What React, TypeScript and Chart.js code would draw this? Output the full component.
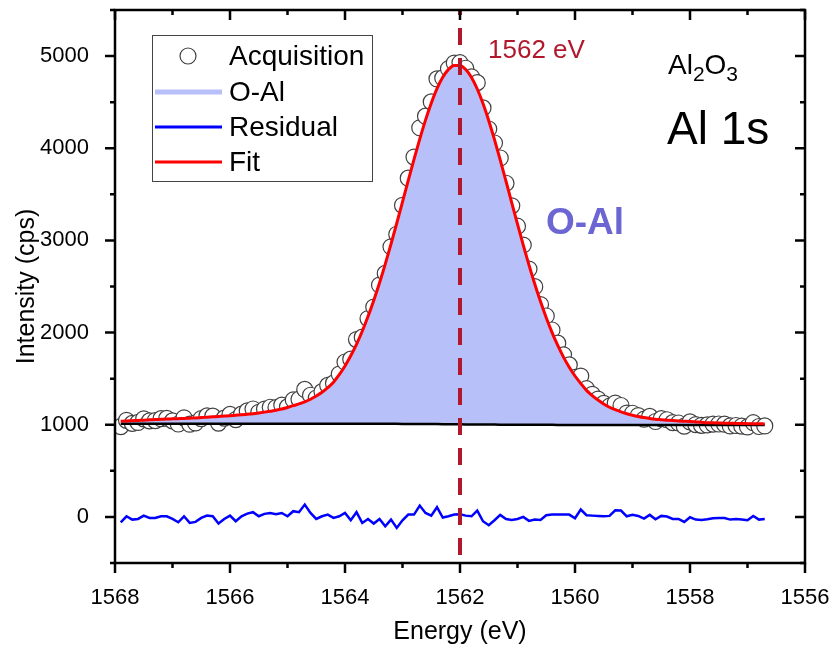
import React, { useEffect, useRef } from 'react';
import { Chart, registerables } from 'chart.js';

Chart.register(...registerables);

// ---------- data ----------
const energies = [
  1567.9, 1567.8, 1567.7, 1567.6, 1567.5, 1567.4, 1567.3, 1567.2, 1567.1, 1567.0,
  1566.9, 1566.8, 1566.7, 1566.6, 1566.5, 1566.4, 1566.3, 1566.2, 1566.1, 1566.0,
  1565.9, 1565.8, 1565.7, 1565.6, 1565.5, 1565.4, 1565.3, 1565.2, 1565.1, 1565.0,
  1564.9, 1564.8, 1564.7, 1564.6, 1564.5, 1564.4, 1564.3, 1564.2, 1564.1, 1564.0,
  1563.9, 1563.8, 1563.7, 1563.6, 1563.5, 1563.4, 1563.3, 1563.2, 1563.1, 1563.0,
  1562.9, 1562.8, 1562.7, 1562.6, 1562.5, 1562.4, 1562.3, 1562.2, 1562.1, 1562.0,
  1561.9, 1561.8, 1561.7, 1561.6, 1561.5, 1561.4, 1561.3, 1561.2, 1561.1, 1561.0,
  1560.9, 1560.8, 1560.7, 1560.6, 1560.5, 1560.4, 1560.3, 1560.2, 1560.1, 1560.0,
  1559.9, 1559.8, 1559.7, 1559.6, 1559.5, 1559.4, 1559.3, 1559.2, 1559.1, 1559.0,
  1558.9, 1558.8, 1558.7, 1558.6, 1558.5, 1558.4, 1558.3, 1558.2, 1558.1, 1558.0,
  1557.9, 1557.8, 1557.7, 1557.6, 1557.5, 1557.4, 1557.3, 1557.2, 1557.1, 1557.0,
  1556.9, 1556.8, 1556.7,
];

const acquisition = [
  980, 1048, 1015, 1025, 1064, 1042, 1045, 1066, 1069, 1042,
  1008, 1075, 1006, 1020, 1067, 1096, 1093, 1018, 1072, 1112,
  1056, 1115, 1150, 1171, 1135, 1170, 1190, 1186, 1213, 1194,
  1269, 1277, 1383, 1320, 1290, 1359, 1427, 1451, 1550, 1681,
  1712, 1924, 1950, 2152, 2277, 2516, 2642, 2931, 3067, 3381,
  3675, 3904, 4222, 4348, 4503, 4752, 4763, 4863, 4924, 4928,
  4868, 4775, 4712, 4438, 4209, 4057, 3894, 3620, 3375, 3154,
  2950, 2689, 2498, 2304, 2180, 2028, 1885, 1759, 1649, 1515,
  1528, 1391, 1330, 1279, 1232, 1201, 1235, 1209, 1127, 1125,
  1100, 1060, 1090, 1035, 1066, 1054, 1023, 1019, 984, 1031,
  1002, 994, 998, 1007, 1008, 1006, 987, 992, 984, 976,
  1022, 981, 987,
];

// single O-Al component: component envelope equals the fit
const fitValues = [
  1038, 1041, 1044, 1047, 1050, 1053, 1056, 1059, 1062, 1064,
  1066, 1068, 1071, 1074, 1078, 1082, 1086, 1090, 1094, 1098,
  1103, 1108, 1114, 1120, 1128, 1137, 1147, 1157, 1170, 1187,
  1207, 1226, 1249, 1277, 1312, 1352, 1402, 1462, 1543, 1638,
  1748, 1873, 2015, 2174, 2349, 2538, 2743, 2960, 3186, 3417,
  3650, 3879, 4099, 4305, 4489, 4647, 4770, 4856, 4899, 4899,
  4854, 4768, 4643, 4485, 4299, 4093, 3872, 3642, 3408, 3176,
  2950, 2732, 2527, 2337, 2162, 2003, 1860, 1734, 1624, 1529,
  1448, 1373, 1316, 1268, 1225, 1190, 1163, 1140, 1120, 1103,
  1089, 1078, 1068, 1060, 1055, 1050, 1045, 1041, 1038, 1035,
  1031, 1027, 1023, 1021, 1019, 1017, 1016, 1014, 1013, 1012,
  1011, 1010, 1009,
];
const oAlComponent = fitValues;

const backgroundValues = [
  1012, 1012, 1012, 1012, 1012, 1012, 1012, 1012, 1012, 1012,
  1012, 1012, 1012, 1012, 1012, 1012, 1012, 1012, 1012, 1012,
  1012, 1012, 1012, 1012, 1012, 1012, 1012, 1012, 1012, 1012,
  1012, 1012, 1012, 1012, 1012, 1012, 1012, 1012, 1012, 1012,
  1012, 1011, 1011, 1011, 1011, 1010, 1010, 1010, 1010, 1009,
  1009, 1008, 1008, 1008, 1007, 1007, 1006, 1006, 1005, 1005,
  1004, 1004, 1003, 1003, 1002, 1002, 1001, 1001, 1000, 1000,
  1000, 999, 999, 999, 999, 999, 998, 998, 998, 998,
  998, 998, 998, 998, 998, 998, 998, 998, 998, 998,
  998, 998, 998, 998, 998, 998, 998, 998, 998, 998,
  998, 998, 998, 998, 998, 998, 998, 998, 998, 998,
  998, 998, 998,
];

const residual = [
  -58, 7, -29, -22, 14, -11, -11, 7, 7, -22,
  -58, 7, -65, -54, -11, 14, 7, -72, -22, 14,
  -47, 7, 36, 51, 7, 33, 43, 29, 43, 7,
  62, 51, 134, 43, -22, 7, 25, -11, 7, 43,
  -36, 51, -65, -22, -72, -22, -101, -29, -119, -36,
  25, 25, 123, 43, 14, 105, -7, 7, 25, 29,
  14, 7, 69, -47, -90, -36, 22, -22, -33, -22,
  0, -43, -29, -33, 18, 25, 25, 25, 25, -14,
  80, 18, 14, 11, 7, 11, 72, 69, 7, 22,
  11, -18, 22, -25, 11, 4, -22, -22, -54, -4,
  -29, -33, -25, -14, -11, -11, -29, -22, -29, -36,
  11, -29, -22,
];

const xMajorTicks = [1568, 1566, 1564, 1562, 1560, 1558, 1556];
const yMajorTicks = [0, 1000, 2000, 3000, 4000, 5000];
const peakEnergy = 1562;
const peakLabel = '1562 eV';
const legendLabels = ['Acquisition', 'O-Al', 'Residual', 'Fit'];

// ---------- styles ----------
const FONT = '"Liberation Sans", Arial, Helvetica, sans-serif';
const FILL_COLOR = '#b8c0fa';
const DASH_COLOR = '#b2182b';
const LABEL_COLOR = '#6c66d2';
const CIRCLE_EDGE = '#404040';

const toPoints = (ys: number[]) => energies.map((e, i) => ({ x: e, y: ys[i] }));

const decorations = {
  id: 'decorations',
  afterDatasetsDraw(chart: any) {
    const { ctx, chartArea: ca, scales } = chart;
    const px = scales.x.getPixelForValue(peakEnergy);
    ctx.save();
    ctx.beginPath();
    ctx.rect(ca.left, ca.top, ca.right - ca.left, ca.bottom - ca.top);
    ctx.clip();
    ctx.strokeStyle = DASH_COLOR;
    ctx.lineWidth = 4;
    ctx.setLineDash([17, 13]);
    ctx.lineDashOffset = 12;
    ctx.beginPath();
    ctx.moveTo(px, ca.top);
    ctx.lineTo(px, ca.bottom);
    ctx.stroke();
    ctx.restore();
  },
  afterDraw(chart: any) {
    const { ctx, chartArea: ca, scales } = chart;
    const xs = scales.x;
    const ys = scales.y;
    ctx.save();
    ctx.strokeStyle = '#000';
    ctx.lineWidth = 2.5;
    ctx.setLineDash([]);
    ctx.strokeRect(ca.left, ca.top, ca.right - ca.left, ca.bottom - ca.top);

    ctx.lineWidth = 2.5;
    ctx.beginPath();
    xs.ticks.forEach((t: any) => {
      const p = xs.getPixelForValue(t.value);
      const len = xMajorTicks.includes(t.value) ? 10 : 5;
      ctx.moveTo(p, ca.bottom);
      ctx.lineTo(p, ca.bottom + len);
      ctx.moveTo(p, ca.top);
      ctx.lineTo(p, ca.top + len);
    });
    ys.ticks.forEach((t: any) => {
      const p = ys.getPixelForValue(t.value);
      const len = yMajorTicks.includes(t.value) ? 10 : 5;
      ctx.moveTo(ca.left - len, p);
      ctx.lineTo(ca.left, p);
      ctx.moveTo(ca.right - len, p);
      ctx.lineTo(ca.right, p);
    });
    ctx.stroke();

    // annotations
    ctx.textBaseline = 'middle';
    ctx.textAlign = 'left';
    ctx.fillStyle = DASH_COLOR;
    ctx.font = `26px ${FONT}`;
    ctx.fillText(peakLabel, 488, 51);

    ctx.textBaseline = 'alphabetic';
    ctx.fillStyle = '#000';
    let cx = 668;
    const parts: [string, boolean][] = [['Al', false], ['2', true], ['O', false], ['3', true]];
    parts.forEach(([s, sub]) => {
      ctx.font = `${sub ? 21 : 28}px ${FONT}`;
      ctx.fillText(s, cx, sub ? 81 : 74);
      cx += ctx.measureText(s).width;
    });
    ctx.font = `46px ${FONT}`;
    ctx.fillText('Al 1s', 667, 144);

    ctx.fillStyle = LABEL_COLOR;
    ctx.font = `bold 37px ${FONT}`;
    ctx.fillText('O-Al', 546, 234);

    // legend
    ctx.strokeStyle = '#444';
    ctx.lineWidth = 1;
    ctx.strokeRect(152.5, 35.5, 220, 146);
    const rows = [56, 92, 127, 162];
    ctx.font = `28px ${FONT}`;
    ctx.fillStyle = '#000';
    ctx.textBaseline = 'middle';
    legendLabels.forEach((lab, i) => ctx.fillText(lab, 229, rows[i] + 1));
    // symbols
    ctx.beginPath();
    ctx.arc(188, rows[0], 8, 0, Math.PI * 2);
    ctx.fillStyle = '#fff';
    ctx.fill();
    ctx.strokeStyle = CIRCLE_EDGE;
    ctx.lineWidth = 1.2;
    ctx.stroke();
    const lines: [string, number][] = [[FILL_COLOR, 5], ['#0000ff', 3], ['#ff0000', 3]];
    lines.forEach(([c, w], k) => {
      ctx.strokeStyle = c;
      ctx.lineWidth = w;
      ctx.beginPath();
      ctx.moveTo(155, rows[k + 1]);
      ctx.lineTo(222, rows[k + 1]);
      ctx.stroke();
    });
    ctx.restore();
  },
};

export default function App() {
  const ref = useRef<HTMLCanvasElement | null>(null);

  useEffect(() => {
    if (!ref.current) return;
    const chart = new Chart(ref.current, {
      type: 'line',
      data: {
        datasets: [
          {
            label: 'Acquisition',
            data: toPoints(acquisition),
            showLine: false,
            pointRadius: 8,
            pointBorderWidth: 1.2,
            pointBorderColor: CIRCLE_EDGE,
            pointBackgroundColor: '#fff',
            order: 5,
          },
          {
            label: 'O-Al',
            data: toPoints(oAlComponent),
            borderColor: FILL_COLOR,
            backgroundColor: FILL_COLOR,
            borderWidth: 2,
            pointRadius: 0,
            fill: 2,
            order: 4,
          },
          {
            label: 'Background',
            data: toPoints(backgroundValues),
            borderColor: '#000',
            borderWidth: 2.5,
            pointRadius: 0,
            fill: false,
            order: 3,
          },
          {
            label: 'Residual',
            data: toPoints(residual),
            borderColor: '#0000ff',
            borderWidth: 2.5,
            pointRadius: 0,
            fill: false,
            order: 2,
          },
          {
            label: 'Fit',
            data: toPoints(fitValues),
            borderColor: '#ff0000',
            borderWidth: 3,
            pointRadius: 0,
            fill: false,
            cubicInterpolationMode: 'monotone',
            order: 1,
          },
        ] as any,
      },
      options: {
        animation: false,
        responsive: false,
        devicePixelRatio: 1,
        events: [],
        layout: { padding: { left: 0, right: 30, top: 10, bottom: 0 } },
        plugins: { legend: { display: false }, tooltip: { enabled: false } },
        scales: {
          x: {
            type: 'linear',
            reverse: true,
            min: 1556,
            max: 1568,
            grid: { display: false },
            border: { display: false },
            ticks: {
              stepSize: 1,
              autoSkip: false,
              maxRotation: 0,
              padding: 14,
              color: '#000',
              font: { family: FONT, size: 22 },
              callback: (v: any) => (xMajorTicks.includes(v) ? String(v) : ''),
            },
            title: {
              display: true,
              text: 'Energy (eV)',
              color: '#000',
              font: { family: FONT, size: 25 },
              padding: { top: 0, bottom: 8 },
            },
            afterFit: (s: any) => {
              s.height = 92;
              s.paddingLeft = 0;
              s.paddingRight = 0;
              s.paddingTop = 0;
              s.paddingBottom = 0;
            },
          },
          y: {
            type: 'linear',
            min: -500,
            max: 5500,
            grid: { display: false },
            border: { display: false },
            ticks: {
              stepSize: 500,
              autoSkip: false,
              padding: 18,
              color: '#000',
              font: { family: FONT, size: 22 },
              callback: (v: any) => (yMajorTicks.includes(v) ? String(v) : ''),
            },
            title: {
              display: true,
              text: 'Intensity (cps)',
              color: '#000',
              font: { family: FONT, size: 25 },
              padding: { top: 12, bottom: 0 },
            },
            afterFit: (s: any) => {
              s.width = 115;
              s.paddingLeft = 0;
              s.paddingRight = 0;
              s.paddingTop = 0;
              s.paddingBottom = 0;
            },
          },
        },
      },
      plugins: [decorations],
    });
    return () => chart.destroy();
  }, []);

  return (
    <div style={{ position: 'absolute', left: 0, top: 0, width: 835, height: 655, background: '#fff' }}>
      <canvas ref={ref} width={835} height={655} style={{ display: 'block' }} />
    </div>
  );
}
